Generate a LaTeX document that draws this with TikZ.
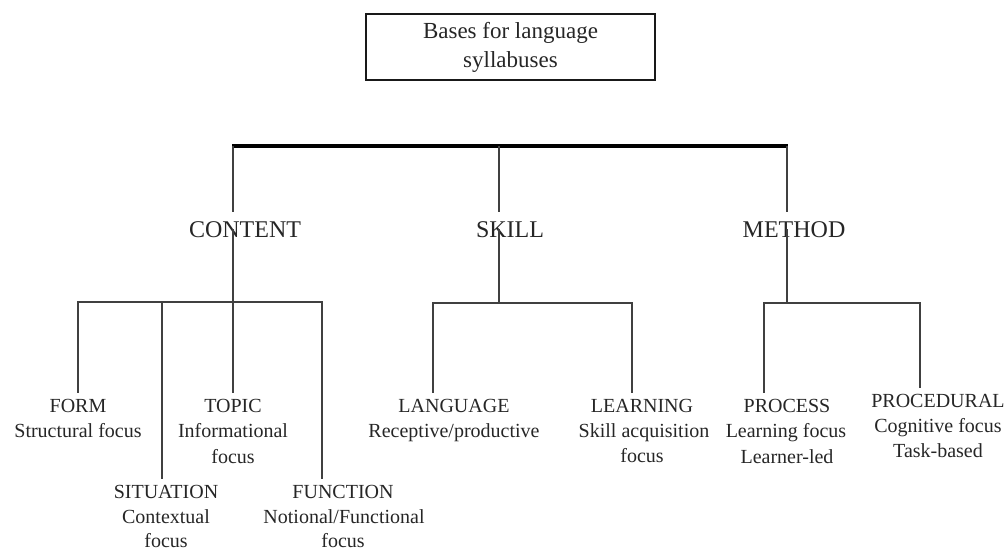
\documentclass[tikz,border=0pt]{standalone}
\usepackage{fontspec}
\setmainfont{Liberation Serif}
\begin{document}
\begin{tikzpicture}[x=1pt,y=-1pt,
  ln/.style={draw=black!75,line width=1.3pt},
  barline/.style={draw=black,line width=3.5pt},
  midlbl/.style={anchor=base,inner xsep=0pt,inner ysep=8.7pt,text=black!85,font=\fontsize{24}{28}\selectfont},
  headlbl/.style={anchor=base,inner xsep=0pt,inner ysep=6pt,text=black!85,font=\fontsize{20}{24}\selectfont},
  desclbl/.style={anchor=base,inner sep=0pt,text=black!85,font=\fontsize{20}{24}\selectfont},
  titlebox/.style={draw=black!90,line width=2pt,minimum width=289pt,minimum height=66pt,align=center,text=black!85,font=\fontsize{23}{29}\selectfont}
]
\useasboundingbox (0,0) rectangle (1006,550);

% title
\node[titlebox] (title) at (510.5,47) {Bases for language\\syllabuses};

% middle level
\node[midlbl] (content) at (245,237) {CONTENT};
\node[midlbl] (skill) at (510,237) {SKILL};
\node[midlbl] (method) at (794,237) {METHOD};

% bottom level: content
\node[headlbl] (form) at (78,412) {FORM};
\node[desclbl] (formA) at (78,437) {Structural focus};
\node[headlbl] (topic) at (233,412) {TOPIC};
\node[desclbl] (topicA) at (233,437) {Informational};
\node[desclbl] (topicB) at (233,463) {focus};
\node[headlbl] (situation) at (166,498) {SITUATION};
\node[desclbl] (situationA) at (166,523) {Contextual};
\node[desclbl] (situationB) at (166,547) {focus};
\node[headlbl] (function) at (343,498) {FUNCTION};
\node[desclbl] (functionA) at (344,523) {Notional/Functional};
\node[desclbl] (functionB) at (343,547) {focus};

% bottom level: skill
\node[headlbl] (language) at (454,412) {LANGUAGE};
\node[desclbl] (languageA) at (454,437) {Receptive/productive};
\node[headlbl] (learning) at (642,412) {LEARNING};
\node[desclbl] (learningA) at (644,437) {Skill acquisition};
\node[desclbl] (learningB) at (642,462) {focus};

% bottom level: method
\node[headlbl] (process) at (787,412) {PROCESS};
\node[desclbl] (processA) at (786,437) {Learning focus};
\node[desclbl] (processB) at (787,463) {Learner-led};
\node[headlbl] (procedural) at (938,407) {PROCEDURAL};
\node[desclbl] (proceduralA) at (938,432) {Cognitive focus};
\node[desclbl] (proceduralB) at (938,457) {Task-based};

% junction coordinates
\coordinate (barC) at (233,146);
\coordinate (barS) at (499,146);
\coordinate (barM) at (787,146);
\coordinate (jForm) at (78,302);
\coordinate (jSit) at (162,302);
\coordinate (jTopic) at (233,302);
\coordinate (jFunc) at (322,302);
\coordinate (jLang) at (433,303);
\coordinate (jSkill) at (499,303);
\coordinate (jLearn) at (632,303);
\coordinate (jProc) at (764,303);
\coordinate (jMeth) at (787,303);
\coordinate (jProcd) at (920,303);

% top bar
\draw[barline] ([xshift=-0.65pt]barC) -- ([xshift=0.65pt]barM);

% upper verticals
\draw[ln] (barC) -- (barC |- content.north);
\draw[ln] (barS) -- (barS |- skill.north);
\draw[ln] (barM) -- (barM |- method.north);

% content subtree
\draw[ln] (barC |- content.center) -- (jTopic) -- (jTopic |- topic.north);
\draw[ln] (jForm |- form.north) -- (jForm) -- (jFunc) -- (jFunc |- function.north);
\draw[ln] (jSit) -- (jSit |- situation.north);

% skill subtree
\draw[ln] (barS |- skill.center) -- (jSkill);
\draw[ln] (jLang |- language.north) -- (jLang) -- (jLearn) -- (jLearn |- learning.north);

% method subtree
\draw[ln] (barM |- method.center) -- (jMeth);
\draw[ln] (jProc |- process.north) -- (jProc) -- (jProcd) -- (jProcd |- procedural.north);
\end{tikzpicture}
\end{document}
